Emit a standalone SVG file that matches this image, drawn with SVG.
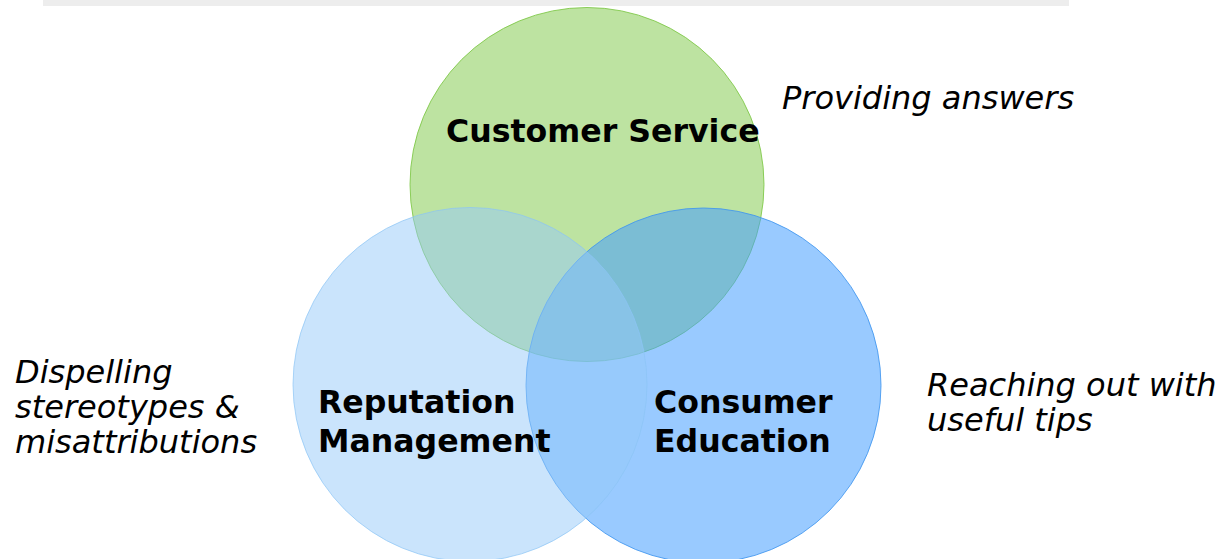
<svg xmlns="http://www.w3.org/2000/svg" width="1223" height="559" viewBox="0 0 1223 559">
<style>
.lbl{font-family:"DejaVu Sans","Verdana",sans-serif;font-weight:bold;font-size:31.6px;fill:#000}
.note{font-family:"DejaVu Sans","Verdana",sans-serif;font-style:italic;font-size:32px;fill:#000}
</style>
<rect x="43" y="0" width="1026" height="6" fill="#ededed"/>
<g id="customer-service">
<circle cx="587" cy="184.5" r="177" fill="#7bc743" fill-opacity="0.5" stroke="#7bc743" stroke-opacity="0.85" stroke-width="1"/>
</g>
<g id="consumer-education">
<circle cx="703.5" cy="385.5" r="177.5" fill="#469fff" fill-opacity="0.55" stroke="#3f95ee" stroke-opacity="0.85" stroke-width="1"/>
</g>
<g id="reputation-management">
<circle cx="470" cy="384.5" r="177" fill="#95c9f9" fill-opacity="0.5" stroke="#8cc4f5" stroke-opacity="0.7" stroke-width="1"/>
</g>
<g id="labels">
<text class="lbl" x="446" y="142">Customer Service</text>
<text class="lbl" x="318" y="413">Reputation</text>
<text class="lbl" x="318" y="452">Management</text>
<text class="lbl" x="654" y="413">Consumer</text>
<text class="lbl" x="654" y="452">Education</text>
</g>
<g id="notes">
<text class="note" x="782" y="109">Providing answers</text>
<text class="note" x="927" y="396">Reaching out with</text>
<text class="note" x="927" y="431">useful tips</text>
<text class="note" x="15" y="383">Dispelling</text>
<text class="note" x="15" y="418">stereotypes &amp;</text>
<text class="note" x="15" y="453">misattributions</text>
</g>
</svg>
